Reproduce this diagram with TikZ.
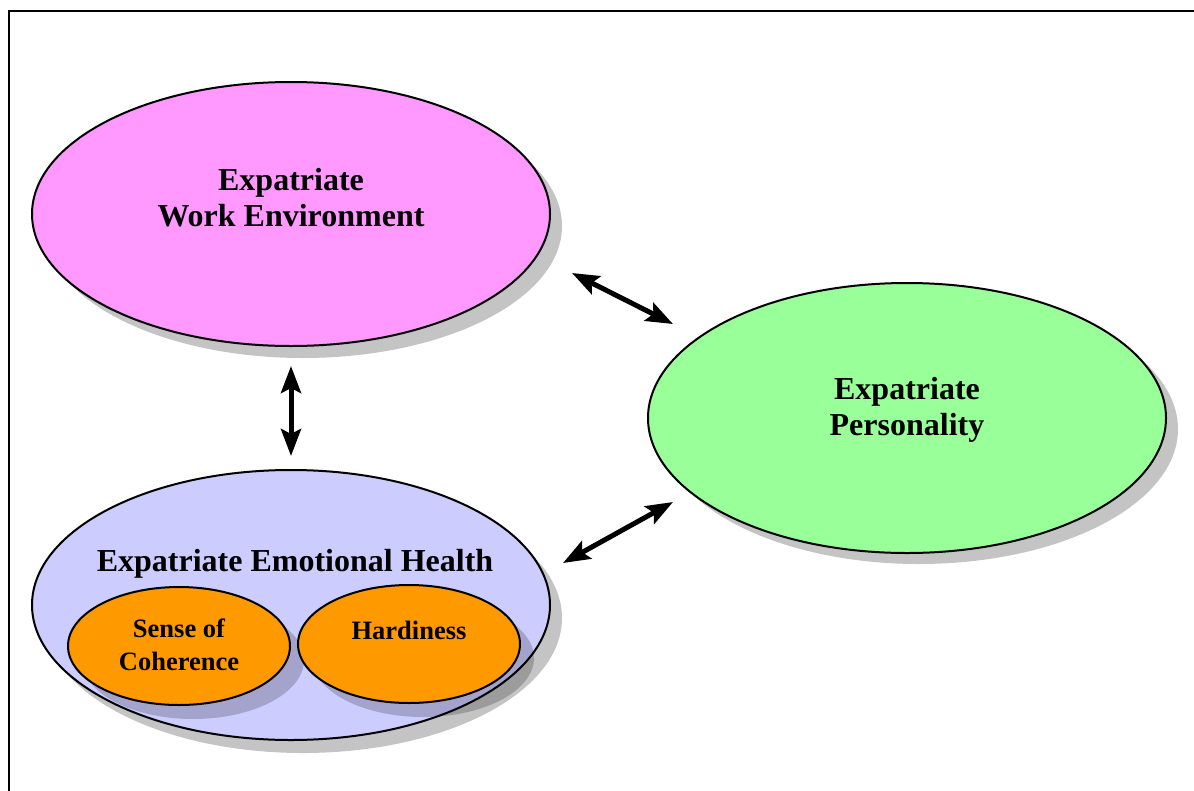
\documentclass[tikz,border=0pt]{standalone}
\usepackage{fontspec}
\setmainfont{Liberation Serif}
\usetikzlibrary{shapes.geometric,arrows.meta}
\definecolor{pinkf}{HTML}{FF99FF}
\definecolor{greenf}{HTML}{99FF99}
\definecolor{bluef}{HTML}{CCCCFF}
\definecolor{orangef}{HTML}{FF9900}
\definecolor{shadowc}{HTML}{C4C4C4}
\tikzset{
  bubble/.style={ellipse, draw=black, line width=2pt, inner sep=0pt},
  shade1/.style={ellipse, fill=shadowc, draw=none, inner sep=0pt},
  shade2/.style={ellipse, fill=black, fill opacity=0.2, draw=none, inner sep=0pt},
  bigtxt/.style={font=\fontsize{32}{36}\selectfont\bfseries, align=center, inner sep=0pt},
  smalltxt/.style={font=\fontsize{26.5}{33}\selectfont\bfseries, align=center, inner sep=0pt},
  link/.style={line width=5pt, {Stealth[length=27pt,width=20pt,inset=5pt]}-{Stealth[length=27pt,width=20pt,inset=5pt]}},
}
\begin{document}
\begin{tikzpicture}[x=1pt,y=-1pt]
\useasboundingbox (0,0) rectangle (1194,790);
\begin{scope}
\clip (0,0) rectangle (1194,790);
\draw[line width=2pt] (8.5,810) -- (8.5,11) -- (1210,11);
\end{scope}
% pink
\node[shade1, minimum width=518pt, minimum height=264pt] (ps) at (303,226) {};
\node[bubble, fill=pinkf, minimum width=518pt, minimum height=264pt] (pink) at (291,214) {};
\node[bigtxt] (pinkt) at (291,198) {Expatriate\\Work Environment};
% green
\node[shade1, minimum width=518pt, minimum height=270pt] (gs) at (919,429) {};
\node[bubble, fill=greenf, minimum width=518pt, minimum height=270pt] (green) at (907,418) {};
\node[bigtxt] (greent) at (907,410) {Expatriate\\Personality};
% blue
\node[shade1, minimum width=518pt, minimum height=270pt] (bs) at (303,618) {};
\node[bubble, fill=bluef, minimum width=518pt, minimum height=270pt] (blue) at (291,605) {};
\node[bigtxt] (bluet) at (295,564) {Expatriate Emotional Health};
% orange shadows
\node[shade2, minimum width=222pt, minimum height=118pt] (o1s) at (193,660) {};
\node[shade2, minimum width=222pt, minimum height=118pt] (o2s) at (423,658) {};
% oranges
\node[bubble, fill=orangef, minimum width=222pt, minimum height=118pt] (o1) at (179,646) {};
\node[bubble, fill=orangef, minimum width=222pt, minimum height=118pt] (o2) at (409,644) {};
\node[smalltxt] (o1t) at (179,645) {Sense of\\Coherence};
\node[smalltxt] (o2t) at (409,630) {Hardiness};
% arrows
\coordinate (a1) at (572,273);
\coordinate (a2) at (673,324);
\coordinate (b1) at (563,563);
\coordinate (b2) at (673,502);
\coordinate (c1) at (291,366);
\coordinate (c2) at (291,456);
\draw[link] (a1) -- (a2);
\draw[link] (b1) -- (b2);
\draw[link] (c1) -- (c2);
\end{tikzpicture}
\end{document}
